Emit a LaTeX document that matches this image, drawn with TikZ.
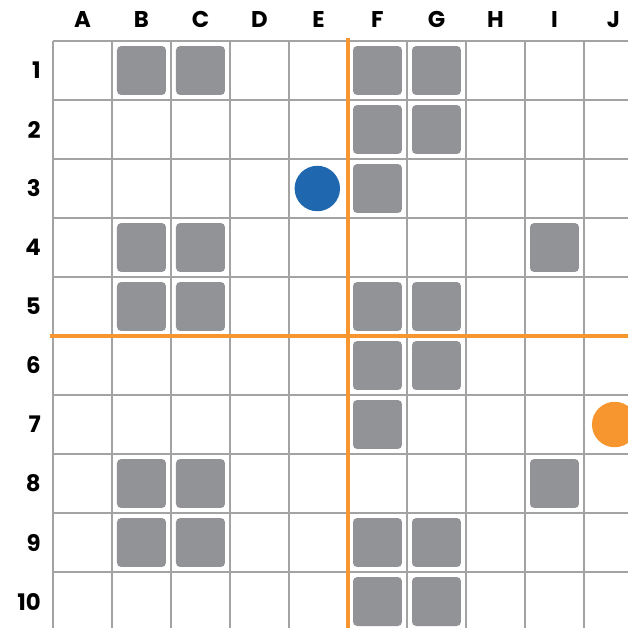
\documentclass[tikz,border=0pt]{standalone}
\usepackage{fontspec}
\setsansfont{Poppins}
\usetikzlibrary{positioning}
\definecolor{gridgrey}{HTML}{A3A3A3}
\definecolor{blockgrey}{HTML}{929396}
\definecolor{mapblue}{HTML}{1F68B0}
\definecolor{maporange}{HTML}{F7952F}
\tikzset{
  gridline/.style={draw=gridgrey, line width=0.7pt},
  block/.style={fill=blockgrey, rounded corners=2pt, minimum size=0.83cm, inner sep=0pt},
  token/.style={circle, minimum size=0.77cm, inner sep=0pt},
  axis/.style={draw=maporange, line width=2pt},
  lbl/.style={font=\sffamily\bfseries\fontsize{11}{13}\selectfont, inner sep=0pt},
}

\begin{document}
\begin{tikzpicture}[x=1cm, y=-1cm]
    \clip (-0.898,-0.695) rectangle (9.746,9.949);
    % grid
    \foreach \i in {0,...,10} {
      \draw[gridline] (\i,0) -- (\i,10);
      \draw[gridline] (0,\i) -- (10,\i);
    }
    % column and row labels
    \foreach \c [count=\k] in {A,B,C,D,E,F,G,H,I,J}
      \node[lbl] (col-\c) at (\k-0.5,-0.37) {\c};
    \foreach \r in {1,...,10}
      \node[lbl, anchor=east] (row-\r) at (-0.2,\r-0.5) {\r};
    % blocked cells
    \foreach \c/\r in {2/1,3/1,6/1,7/1, 6/2,7/2, 6/3, 2/4,3/4,9/4,
                       2/5,3/5,6/5,7/5, 6/6,7/6, 6/7, 2/8,3/8,9/8,
                       2/9,3/9,6/9,7/9, 6/10,7/10}
      \node[block] (sq-\c-\r) at (\c-0.5,\r-0.5) {};
    % quadrant lines
    \coordinate (vtop) at (5,-0.05);
    \coordinate (vbot) at (5,10);
    \coordinate (hleft) at (-0.05,5);
    \coordinate (hright) at (10,5);
    \draw[axis] (vtop) -- (vbot);
    \draw[axis] (hleft) -- (hright);
    % pieces
    \node[token, fill=mapblue]   (bluepiece)   at (4.48,2.5) {};
    \node[token, fill=maporange] (orangepiece) at (9.52,6.5) {};
  \end{tikzpicture}
\end{document}
